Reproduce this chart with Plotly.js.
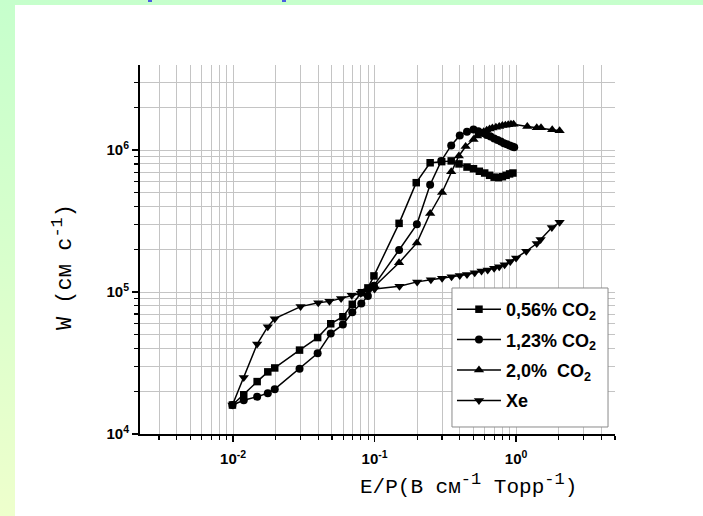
<!DOCTYPE html>
<html>
<head>
<meta charset="utf-8">
<script src="https://cdn.plot.ly/plotly-3.0.1.min.js"></script>
<style>
  html, body { margin: 0; padding: 0; }
  body { width: 703px; height: 516px; overflow: hidden; position: relative;
         background: linear-gradient(to bottom, #c6ffcc 0%, #d8ffcc 50%, #eeffcc 100%); }
  #panel { position: absolute; left: 15px; top: 5px; width: 688px; height: 511px; background: #ffffff; }
  #chart { width: 688px; height: 511px; }
  .mark { position: absolute; top: 0; height: 2px; width: 4px; background: #4a5de0; }
</style>
</head>
<body>
<div class="mark" style="left:148px"></div>
<div class="mark" style="left:282px"></div>
<div id="panel"><div id="chart"></div></div>
<script>
// ---- data ----
const seriesNames = ['0,56% CO<sub>2</sub>', '1,23% CO<sub>2</sub>', '2,0%  CO<sub>2</sub>', 'Xe'];

const x056 = [0.0099, 0.0119, 0.0148, 0.0176, 0.0197, 0.0295, 0.0396, 0.049, 0.0597, 0.0696, 0.0806, 0.0897, 0.099, 0.149, 0.197, 0.247, 0.298, 0.348, 0.395, 0.45, 0.50, 0.55, 0.60, 0.65, 0.70, 0.75, 0.80, 0.85, 0.90, 0.95];
const y056 = [1.6e4, 1.89e4, 2.34e4, 2.74e4, 2.92e4, 3.9e4, 4.78e4, 5.98e4, 6.7e4, 8.2e4, 9.9e4, 1.07e5, 1.30e5, 3.05e5, 5.9e5, 8.15e5, 8.3e5, 8.4e5, 8.0e5, 7.6e5, 7.4e5, 7.1e5, 6.9e5, 6.65e5, 6.45e5, 6.4e5, 6.5e5, 6.65e5, 6.8e5, 6.9e5];

const x123 = [0.0099, 0.0119, 0.0148, 0.0176, 0.0197, 0.0295, 0.0396, 0.049, 0.0597, 0.0696, 0.0806, 0.0897, 0.099, 0.149, 0.199, 0.247, 0.296, 0.348, 0.40, 0.45, 0.50, 0.54, 0.58, 0.62, 0.66, 0.70, 0.74, 0.78, 0.82, 0.86, 0.90, 0.94, 0.97];
const y123 = [1.6e4, 1.73e4, 1.83e4, 1.94e4, 2.07e4, 2.88e4, 3.7e4, 5.1e4, 5.9e4, 7.2e4, 8.3e4, 9.4e4, 1.11e5, 1.98e5, 3.0e5, 5.7e5, 8.4e5, 1.08e6, 1.27e6, 1.35e6, 1.40e6, 1.36e6, 1.32e6, 1.28e6, 1.25e6, 1.21e6, 1.18e6, 1.15e6, 1.12e6, 1.10e6, 1.08e6, 1.06e6, 1.05e6];

const x20 = [0.10, 0.149, 0.199, 0.247, 0.30, 0.348, 0.394, 0.44, 0.50, 0.53, 0.56, 0.59, 0.62, 0.65, 0.68, 0.72, 0.76, 0.80, 0.84, 0.88, 0.92, 0.96, 1.2, 1.4, 1.5, 1.8, 2.03];
const y20 = [1.1e5, 1.61e5, 2.22e5, 3.58e5, 5.03e5, 7.05e5, 9.1e5, 1.06e6, 1.19e6, 1.26e6, 1.31e6, 1.35e6, 1.38e6, 1.41e6, 1.43e6, 1.45e6, 1.47e6, 1.49e6, 1.50e6, 1.51e6, 1.52e6, 1.52e6, 1.47e6, 1.44e6, 1.44e6, 1.39e6, 1.37e6];

const xXe = [0.0099, 0.0119, 0.0148, 0.0176, 0.0197, 0.030, 0.040, 0.048, 0.058, 0.069, 0.080, 0.090, 0.10, 0.15, 0.20, 0.25, 0.30, 0.35, 0.40, 0.45, 0.51, 0.57, 0.63, 0.70, 0.76, 0.83, 0.91, 1.0, 1.18, 1.40, 1.49, 1.79, 2.03];
const yXe = [1.6e4, 2.5e4, 4.3e4, 5.7e4, 6.5e4, 7.9e4, 8.4e4, 8.6e4, 9.0e4, 9.5e4, 9.8e4, 1.02e5, 1.05e5, 1.1e5, 1.18e5, 1.22e5, 1.25e5, 1.28e5, 1.31e5, 1.33e5, 1.37e5, 1.41e5, 1.43e5, 1.47e5, 1.51e5, 1.56e5, 1.64e5, 1.74e5, 1.94e5, 2.2e5, 2.35e5, 2.85e5, 3.1e5];

const xTickVals = [0.01, 0.1, 1];
const xTickText = ['10<sup>-2</sup>', '10<sup>-1</sup>', '10<sup>0</sup>'];
const yTickVals = [1e4, 1e5, 1e6];
const yTickText = ['10<sup>4</sup>', '10<sup>5</sup>', '10<sup>6</sup>'];

// ---- minor tick positions (2..9 within each decade) ----
function minorVals(decades, lo, hi) {
  const out = [];
  decades.forEach(d => { for (let m = 2; m <= 9; m++) { const v = m * d; if (v >= lo && v <= hi) out.push(v); } });
  return out;
}
const xMinor = minorVals([0.001, 0.01, 0.1, 1], 0.0022, 5.0001);
const yMinor = minorVals([1e4, 1e5, 1e6], 1e4, 4.0001e6);

const lineStyle = { color: '#000000', width: 1.5 };
function mk(x, y, name, symbol, size, grp) {
  return { x, y, name, legendgroup: grp, type: 'scatter', mode: 'lines+markers',
           line: lineStyle, marker: { symbol, size, color: '#000000' } };
}
const data = [
  mk(x056, y056, seriesNames[0], 'square', 7.5, 'g1'),
  mk(x123, y123, seriesNames[1], 'circle', 8, 'g2'),
  mk(x20, y20, seriesNames[2], 'triangle-up', 9, 'g3'),
  mk(xXe, yXe, seriesNames[3], 'triangle-down', 9, 'g4')
];

const grid = '#c4c4c4';
const tickFont = { family: 'Arial, "Liberation Sans", sans-serif', size: 15, color: '#000', weight: 'bold' };
const supStyle = '<span style="font-size:17px">';
const layout = {
  width: 688, height: 511,
  margin: { l: 125, r: 88, t: 60, b: 82 },
  paper_bgcolor: '#ffffff', plot_bgcolor: '#ffffff',
  showlegend: true,
  xaxis: {
    type: 'log', range: [Math.log10(0.0022), Math.log10(5)],
    tickmode: 'array', tickvals: xTickVals, ticktext: xTickText,
    ticks: 'outside', ticklen: 6, tickwidth: 1.5, tickcolor: '#000',
    showline: true, linewidth: 2, linecolor: '#000', mirror: false,
    showgrid: true, gridcolor: grid, gridwidth: 1, zeroline: false,
    tickfont: tickFont, ticklabelstandoff: 4,
    minor: { tickmode: 'array', tickvals: xMinor, ticks: 'outside', ticklen: 4, tickwidth: 1.2, tickcolor: '#000',
             showgrid: true, gridcolor: grid, gridwidth: 1 }
  },
  yaxis: {
    type: 'log', range: [4, 6.6],
    tickmode: 'array', tickvals: yTickVals, ticktext: yTickText,
    ticks: 'outside', ticklen: 6, tickwidth: 1.5, tickcolor: '#000',
    showline: true, linewidth: 2, linecolor: '#000', mirror: false,
    showgrid: true, gridcolor: grid, gridwidth: 1, zeroline: false,
    tickfont: tickFont,
    minor: { tickmode: 'array', tickvals: yMinor, ticks: 'outside', ticklen: 4, tickwidth: 1.2, tickcolor: '#000',
             showgrid: true, gridcolor: grid, gridwidth: 1 }
  },
  shapes: [
    { type: 'rect', xref: 'paper', yref: 'paper', x0: 0.6568, x1: 0.9853, y0: 0.019, y1: 0.3957,
      fillcolor: '#ffffff', line: { color: '#8a8a8a', width: 1 }, layer: 'above' }
  ],
  legend: {
    x: 0.6568, y: 0.3875, xanchor: 'left', yanchor: 'top',
    bgcolor: 'rgba(0,0,0,0)', borderwidth: 0,
    font: { family: 'Arial, "Liberation Sans", sans-serif', size: 18, color: '#000', weight: 'bold' },
    itemwidth: 44, traceorder: 'grouped', tracegroupgap: 4
  },
  annotations: [
    { xref: 'paper', yref: 'paper', x: -0.162, y: 0.4526, xanchor: 'center', yanchor: 'middle',
      text: 'W (см с<sup>' + supStyle + '-1</span></sup>)', textangle: -90, showarrow: false,
      font: { family: '"Courier New", "Liberation Mono", monospace', size: 22, color: '#000' } },
    { xref: 'paper', yref: 'paper', x: 0.6926, y: -0.138, xanchor: 'center', yanchor: 'middle',
      text: 'E/P(В см<sup>' + supStyle + '-1</span></sup> Торр<sup>' + supStyle + '-1</span></sup>)', showarrow: false,
      font: { family: '"Courier New", "Liberation Mono", monospace', size: 21, color: '#000' } }
  ]
};

Plotly.newPlot('chart', data, layout, { displayModeBar: false, staticPlot: true });
</script>
</body>
</html>
